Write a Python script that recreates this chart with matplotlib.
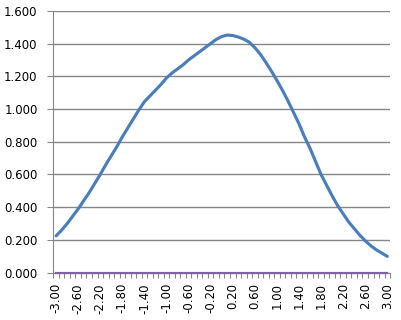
import matplotlib
matplotlib.use("Agg")
import matplotlib.pyplot as plt
import numpy as np

# ── Data ─────────────────────────────────────────────────────────────────────
categories = [f"{v:.2f}" for v in np.round(np.arange(-30, 31) / 10, 2)]
values = [
    0.225, 0.26, 0.30, 0.345, 0.39, 0.44, 0.49, 0.545, 0.60, 0.66,
    0.715, 0.77, 0.83, 0.885, 0.94, 0.995, 1.045, 1.08, 1.115, 1.15,
    1.19, 1.22, 1.245, 1.27, 1.30, 1.325, 1.35, 1.375, 1.40, 1.425,
    1.443, 1.452, 1.449, 1.44, 1.427, 1.408, 1.375, 1.335, 1.285, 1.232,
    1.175, 1.115, 1.05, 0.98, 0.91, 0.83, 0.76, 0.68, 0.60, 0.535,
    0.47, 0.41, 0.36, 0.31, 0.27, 0.23, 0.195, 0.165, 0.14, 0.12,
    0.10,
]
baseline = [0.0] * len(categories)
y_ticks = [0.0, 0.2, 0.4, 0.6, 0.8, 1.0, 1.2, 1.4, 1.6]
label_every = 4

GRID = "#868686"
BLUE = "#4A7EBB"
PURPLE = "#7E63A0"

# ── Plot ─────────────────────────────────────────────────────────────────────
fig = plt.figure(figsize=(4.02, 3.20), dpi=100)
ax = fig.add_axes([0.1327, 0.1478, 0.8376, 0.8184])

x = np.arange(len(categories))
ax.plot(x, values, color=BLUE, lw=2.25, zorder=4, solid_capstyle="round")
ax.plot(x, baseline, color=PURPLE, lw=1.6, zorder=3, clip_on=False)

ax.set_xlim(-0.5, len(categories) - 0.5)
ax.set_ylim(0, 1.6)

ax.set_yticks(y_ticks)
ax.set_yticklabels([f"{v:.3f}" for v in y_ticks], fontsize=8.5, family="DejaVu Sans")
ax.grid(axis="y", color=GRID, lw=1.0, zorder=0)

ax.set_xticks(x[::label_every])
ax.set_xticklabels(categories[::label_every], rotation=90, fontsize=8.5,
                   family="DejaVu Sans")
ax.set_xticks(np.arange(-0.5, len(categories)), minor=True)
ax.tick_params(axis="x", which="major", length=0, pad=7.5)
ax.tick_params(axis="x", which="minor", length=3.8, color=GRID, width=0.8)
ax.tick_params(axis="y", length=4.3, color=GRID, width=0.8, pad=7)

for side in ("top", "right"):
    ax.spines[side].set_visible(False)
ax.spines["left"].set_color(GRID)
ax.spines["bottom"].set_color(GRID)

fig.savefig("out.png", dpi=100)
